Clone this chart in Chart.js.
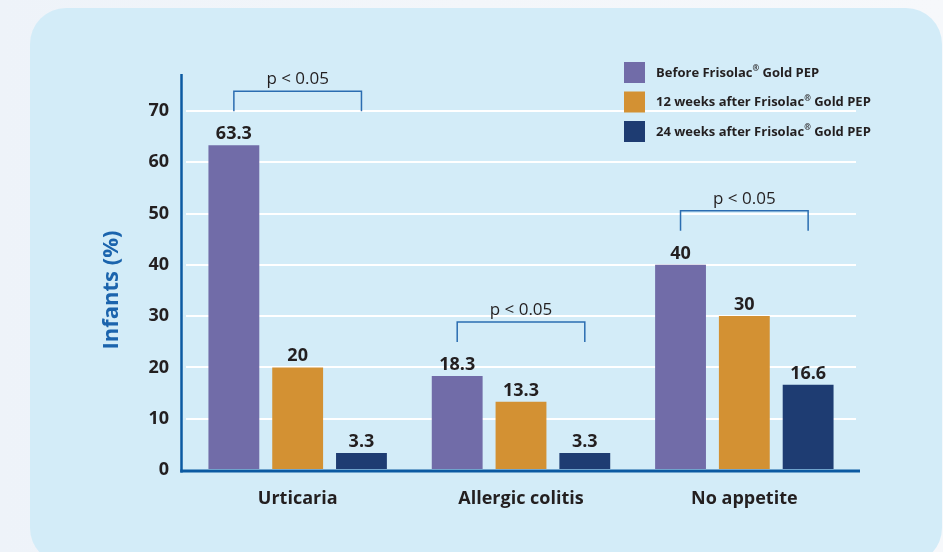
<!DOCTYPE html>
<html>
<head>
<meta charset="utf-8">
<script src="https://cdn.jsdelivr.net/npm/chart.js@4"></script>
<style>
  html, body { margin: 0; padding: 0; }
  body { width: 943px; height: 552px; overflow: hidden; background: linear-gradient(90deg, #eef3f9 0%, #f3f6fa 50%, #f6f8fb 100%); }
  .wrap { position: relative; width: 943px; height: 552px; }
  .panel { position: absolute; left: 30px; top: 8px; width: 912px; height: 556px; background: #d3ecf8; border-radius: 36px; }
  canvas { position: absolute; left: 0; top: 0; }
</style>
</head>
<body>
<div class="wrap">
  <div class="panel"></div>
  <canvas id="grafica" width="943" height="552"></canvas>
</div>
<script>
// datos del grafico
const categories = ['Urticaria', 'Allergic colitis', 'No appetite'];
const seriesLabels = ['Before Frisolac® Gold PEP', '12 weeks after Frisolac® Gold PEP', '24 weeks after Frisolac® Gold PEP'];
const beforeValues = [63.3, 18.3, 40];
const week12Values = [20, 13.3, 30];
const week24Values = [3.3, 3.3, 16.6];
const seriesColors = ['#716ca8', '#d39133', '#1e3c72'];
const yTicks = [0, 10, 20, 30, 40, 50, 60, 70];
const pLabels = ['p < 0.05', 'p < 0.05', 'p < 0.05'];

const FONT = "'Open Sans', 'Noto Sans', sans-serif";
const TEXT = '#231f20';
const AXIS = '#0b5aa2';
const BRACKET = '#2b6db1';

// ejes, etiquetas de valores, corchetes de significancia y leyenda
const extras = {
    id: 'extras',
    afterDatasetsDraw(chart) {
        const ctx = chart.ctx;
        const area = chart.chartArea;
        const metas = chart.data.datasets.map((d, i) => chart.getDatasetMeta(i));

        ctx.save();
        // ejes
        ctx.strokeStyle = AXIS;
        ctx.lineWidth = 2.5;
        ctx.beginPath();
        ctx.moveTo(area.left - 4.5, area.top - 1);
        ctx.lineTo(area.left - 4.5, area.bottom + 2.5);
        ctx.stroke();
        ctx.lineWidth = 3;
        ctx.beginPath();
        ctx.moveTo(area.left - 5.75, area.bottom + 1);
        ctx.lineTo(area.right + 4, area.bottom + 1);
        ctx.stroke();

        // valores encima de las barras
        ctx.fillStyle = TEXT;
        ctx.font = 'bold 18px ' + FONT;
        ctx.textAlign = 'center';
        ctx.textBaseline = 'alphabetic';
        metas.forEach((meta, di) => {
            meta.data.forEach((bar, i) => {
                ctx.fillText(String(chart.data.datasets[di].data[i]), bar.x, bar.y - 6);
            });
        });

        // corchetes p < 0.05
        categories.forEach((c, i) => {
            const x1 = metas[0].data[i].x;
            const x2 = metas[metas.length - 1].data[i].x;
            const top = Math.min(...metas.map(m => m.data[i].y));
            const hy = top - 54;
            ctx.strokeStyle = BRACKET;
            ctx.lineWidth = 1.5;
            ctx.beginPath();
            ctx.moveTo(x1, hy + 20);
            ctx.lineTo(x1, hy);
            ctx.lineTo(x2, hy);
            ctx.lineTo(x2, hy + 20);
            ctx.stroke();
            ctx.fillStyle = TEXT;
            ctx.font = '17px ' + FONT;
            ctx.fillText(pLabels[i], (x1 + x2) / 2, hy - 7);
        });

        // titulo eje y
        ctx.save();
        ctx.translate(112, 290);
        ctx.rotate(-Math.PI / 2);
        ctx.fillStyle = '#1b64ad';
        ctx.font = 'bold 22px ' + FONT;
        ctx.textBaseline = 'middle';
        ctx.fillText('Infants (%)', 0, 0);
        ctx.restore();

        // leyenda
        ctx.textAlign = 'left';
        ctx.textBaseline = 'middle';
        chart.data.datasets.forEach((d, i) => {
            const y = 62 + i * 29.5;
            ctx.fillStyle = d.backgroundColor;
            ctx.fillRect(624, y, 21, 21);
            ctx.fillStyle = TEXT;
            const parts = d.label.split('®');
            let x = 656;
            ctx.font = 'bold 13px ' + FONT;
            ctx.fillText(parts[0], x, y + 11);
            x += ctx.measureText(parts[0]).width;
            ctx.font = 'bold 8px ' + FONT;
            ctx.fillText('®', x, y + 7);
            x += ctx.measureText('®').width;
            ctx.font = 'bold 13px ' + FONT;
            ctx.fillText(parts[1], x, y + 11);
        });
        ctx.restore();
    }
};

const ctx = document.getElementById('grafica').getContext('2d');
new Chart(ctx, {
    type: 'bar',
    data: {
        labels: categories,
        datasets: [beforeValues, week12Values, week24Values].map((vals, i) => ({
            label: seriesLabels[i],
            data: vals,
            backgroundColor: seriesColors[i],
            borderWidth: 0,
            barPercentage: 0.797,
            categoryPercentage: 0.857
        }))
    },
    options: {
        responsive: false,
        devicePixelRatio: 1,
        animation: false,
        layout: { padding: { left: 0, top: 75, right: 87, bottom: 0 } },
        plugins: {
            legend: { display: false },
            tooltip: { enabled: false }
        },
        scales: {
            x: {
                grid: { display: false },
                border: { display: false },
                ticks: { color: TEXT, padding: 10, font: { family: FONT, size: 18, weight: 'bold' } },
                afterFit: s => { s.height = 82; }
            },
            y: {
                min: 0,
                max: 77,
                afterBuildTicks: s => { s.ticks = yTicks.map(v => ({ value: v })); },
                grid: {
                    drawTicks: false,
                    lineWidth: 2,
                    color: c => (c.tick && c.tick.value === 0) ? 'rgba(0,0,0,0)' : '#ffffff'
                },
                border: { display: false },
                ticks: { color: TEXT, padding: 17, font: { family: FONT, size: 18, weight: 'bold' } },
                afterFit: s => { s.width = 186; }
            }
        }
    },
    plugins: [extras]
});
</script>
</body>
</html>
